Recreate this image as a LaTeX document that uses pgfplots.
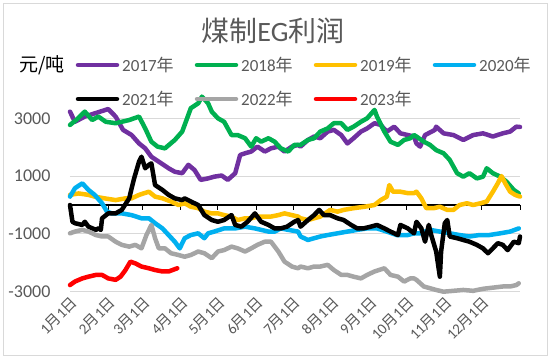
\documentclass[border=0pt]{standalone}
\usepackage{pgfplots}
\pgfplotsset{compat=1.18}
\usepackage{fontspec}
\setmainfont{Carlito}
\newfontfamily\cjk{Noto Sans CJK SC}
\definecolor{c17}{HTML}{7030A0}
\definecolor{c18}{HTML}{00B050}
\definecolor{c19}{HTML}{FFC000}
\definecolor{c20}{HTML}{00B0F0}
\definecolor{c21}{HTML}{000000}
\definecolor{c22}{HTML}{A5A5A5}
\definecolor{c23}{HTML}{FF0000}
\definecolor{txt}{HTML}{595959}
\definecolor{gridc}{HTML}{D9D9D9}
\begin{document}
\begin{tikzpicture}
\path (0pt,0pt) rectangle (550pt,358pt);
\draw[gridc, line width=0.8pt] (3pt,3pt) rectangle (547pt,355pt);
\begin{axis}[
  at={(70pt,66.3pt)}, anchor=south west,
  scale only axis, width=450pt, height=202.3pt,
  xmin=0, xmax=365, ymin=-3000, ymax=4000,
  clip=false,
  axis lines*=left,
  axis line style={draw=none},
  tick style={draw=none},
  ytick={-3000,-1000,1000,3000},
  yticklabels={-3000,-1000,1000,3000},
  ymajorgrids, grid style={gridc, line width=1pt},
  yticklabel style={font=\fontsize{18}{20}\selectfont, text=txt, xshift=-16pt},
  xtick={0,31,59,90,120,151,181,212,243,273,304,334},
  xticklabels={1{\cjk 月}1{\cjk 日},2{\cjk 月}1{\cjk 日},3{\cjk 月}1{\cjk 日},4{\cjk 月}1{\cjk 日},5{\cjk 月}1{\cjk 日},6{\cjk 月}1{\cjk 日},7{\cjk 月}1{\cjk 日},8{\cjk 月}1{\cjk 日},9{\cjk 月}1{\cjk 日},10{\cjk 月}1{\cjk 日},11{\cjk 月}1{\cjk 日},12{\cjk 月}1{\cjk 日}},
  xticklabel style={font=\fontsize{15}{17}\selectfont, text=txt, rotate=45, anchor=east, yshift=-9pt, xshift=1pt},
  every axis plot/.append style={line width=4.5pt, line join=round, line cap=round, mark=none},
]
\addplot[black, line width=1.3pt, line cap=butt] coordinates {(0,0) (365,0)};
\addplot[black, ycomb, line width=1pt, line cap=butt] coordinates {(0,-170) (31,-170) (59,-170) (90,-170) (120,-170) (151,-170) (181,-170) (212,-170) (243,-170) (273,-170) (304,-170) (334,-170) (365,-170)};
% 2017
\addplot[c17] coordinates {(0,3230) (4,2880) (12,3060) (20,3170) (31,3320) (37,3060) (43,2600) (50,2420) (56,2130) (61,1960) (66,1670) (72,1500) (80,1270) (85,1150) (91,1100) (96,1390) (101,1210) (106,870) (112,920) (117,980) (123,1020) (128,870) (134,1100) (138,1730) (142,1790) (147,1850) (152,2020) (158,1850) (163,1960) (169,2020) (174,1850) (180,2020) (185,2080) (187,2020) (193,2250) (198,2370) (203,2310) (209,2540) (214,2600) (220,2420) (225,2130) (230,2310) (236,2540) (241,2650) (247,2830) (252,2770) (257,2540) (263,2710) (268,2480) (274,2420) (279,2370) (281,2130) (284,2020) (288,2420) (296,2600) (297,2710) (303,2480) (311,2420) (319,2250) (327,2420) (335,2480) (343,2370) (351,2480) (357,2540) (362,2710) (365,2700)};
% 2018
\addplot[c18] coordinates {(0,2770) (5,2940) (12,3230) (18,2940) (23,3060) (29,2880) (37,2830) (48,2940) (56,3060) (61,2650) (66,2190) (71,2020) (77,1960) (85,2250) (91,2540) (93,2770) (98,3350) (104,3520) (107,3750) (112,3520) (115,3230) (120,3000) (125,2880) (131,2420) (136,2420) (142,2310) (147,2020) (151,2310) (155,2190) (161,2310) (166,2190) (171,1960) (177,1850) (182,2080) (187,2080) (193,2250) (198,2310) (203,2540) (209,2650) (214,2830) (220,2830) (225,2600) (230,2710) (236,2880) (241,3000) (247,3290) (249,3060) (255,2540) (260,2190) (266,2080) (271,2250) (276,2310) (279,2420) (281,2370) (287,2190) (292,2080) (297,1900) (303,1790) (308,1560) (314,1100) (319,980) (324,1100) (330,920) (335,980) (338,1270) (343,1100) (349,980) (354,810) (360,520) (364,400)};
% 2019
\addplot[c19] coordinates {(0,350) (7,400) (15,350) (20,290) (28,230) (37,170) (45,230) (50,230) (56,350) (64,460) (69,290) (75,230) (82,120) (88,0) (93,60) (98,-60) (104,-110) (109,-230) (115,-290) (120,-290) (125,-350) (131,-400) (136,-520) (142,-460) (147,-460) (152,-400) (158,-400) (163,-400) (169,-350) (174,-290) (180,-350) (185,-400) (187,-460) (193,-520) (198,-460) (203,-400) (209,-230) (211,-170) (217,-230) (222,-170) (230,-110) (239,-60) (247,0) (252,170) (257,290) (259,690) (262,460) (268,460) (274,410) (279,410) (281,460) (285,230) (289,-110) (295,-110) (300,-60) (306,-170) (311,-170) (316,0) (322,60) (327,0) (333,60) (338,120) (343,460) (347,750) (350,1000) (353,750) (357,460) (361,350) (365,290)};
% 2020
\addplot[c20] coordinates {(0,290) (4,580) (10,750) (15,520) (20,350) (26,60) (30,-230) (34,-290) (42,-290) (50,-350) (58,-460) (64,-460) (69,-630) (75,-810) (80,-1040) (85,-1270) (89,-1500) (93,-1150) (98,-1040) (104,-980) (109,-1150) (112,-980) (117,-920) (125,-810) (134,-810) (142,-750) (150,-810) (155,-860) (161,-920) (166,-920) (171,-810) (177,-860) (185,-920) (187,-1090) (193,-1210) (198,-1150) (203,-1090) (209,-1040) (217,-980) (225,-920) (233,-860) (241,-810) (249,-810) (257,-920) (265,-1040) (274,-1040) (279,-980) (284,-980) (292,-860) (300,-920) (308,-980) (316,-1040) (324,-1090) (332,-1040) (340,-1040) (349,-980) (357,-920) (364,-810)};
% 2021
\addplot[c21] coordinates {(0,0) (2,-580) (4,-630) (10,-690) (12,-580) (15,-750) (21,-860) (23,-810) (25,-860) (26,-460) (31,-290) (37,-290) (42,-170) (48,230) (52,920) (56,1500) (58,1670) (61,1270) (64,1390) (66,1440) (69,690) (75,520) (80,350) (85,230) (91,170) (93,230) (98,120) (104,0) (109,-350) (115,-520) (120,-580) (125,-520) (131,-350) (134,-690) (139,-750) (144,-580) (150,-290) (155,-580) (161,-690) (166,-810) (171,-810) (176,-750) (182,-580) (185,-520) (187,-750) (193,-520) (198,-350) (202,-170) (206,-350) (211,-350) (217,-460) (222,-520) (228,-690) (233,-810) (238,-810) (244,-750) (249,-690) (255,-810) (260,-920) (266,-1040) (268,-690) (274,-810) (279,-980) (281,-580) (285,-810) (288,-1270) (291,-690) (293,-1040) (297,-1610) (300,-2480) (301,-1610) (304,-630) (306,-520) (308,-1090) (314,-1150) (319,-1210) (324,-1270) (330,-1380) (335,-1500) (339,-1670) (343,-1500) (347,-1320) (351,-1380) (355,-1560) (360,-1270) (364,-1320) (365,-1090)};
% 2022
\addplot[c22] coordinates {(0,-980) (4,-920) (10,-860) (15,-920) (21,-1040) (26,-1090) (31,-1090) (37,-1270) (42,-1380) (48,-1440) (53,-1380) (58,-1500) (62,-1040) (66,-690) (69,-1150) (72,-1500) (77,-1500) (82,-1670) (88,-1730) (93,-1790) (98,-1730) (104,-1610) (109,-1670) (115,-1840) (120,-1610) (125,-1560) (131,-1440) (136,-1500) (142,-1610) (147,-1500) (152,-1380) (158,-1270) (163,-1270) (169,-1610) (174,-1960) (180,-2130) (185,-2190) (187,-2130) (193,-2190) (198,-2130) (203,-2130) (209,-2070) (214,-2250) (220,-2420) (225,-2420) (230,-2480) (236,-2540) (241,-2420) (247,-2300) (255,-2190) (260,-2420) (266,-2480) (271,-2650) (276,-2540) (279,-2540) (281,-2590) (287,-2820) (292,-2880) (297,-2940) (303,-3000) (311,-2970) (319,-2940) (327,-2970) (335,-2900) (343,-2860) (351,-2820) (357,-2820) (362,-2770) (364,-2710)};
% 2023
\addplot[c23] coordinates {(0,-2770) (4,-2650) (10,-2540) (15,-2480) (21,-2420) (26,-2420) (31,-2540) (37,-2590) (41,-2480) (45,-2250) (49,-1960) (53,-2020) (58,-2130) (64,-2190) (69,-2250) (75,-2300) (80,-2300) (87,-2190)};
\end{axis}
% title
\node[text=txt, font=\fontsize{28}{32}\selectfont] at (273pt,327pt) {{\cjk 煤制}EG{\cjk 利润}};
% unit label
\node[anchor=west, inner sep=0pt, font=\cjk\fontsize{19}{22}\selectfont] at (19pt,293pt) {元/吨};
% legend
\foreach \c/\x/\y/\t in {c17/76/293/2017,c18/195/293/2018,c19/314/293/2019,c20/433/293/2020,c21/76/259/2021,c22/195/259/2022,c23/314/259/2023}{
  \draw[\c, line width=4.5pt, line cap=round] (\x pt+2pt,\y pt) -- (\x pt+41pt,\y pt);
  \node[anchor=west, inner sep=0pt, text=txt, font=\fontsize{17}{20}\selectfont] at (\x pt+46pt,\y pt) {\t{\cjk 年}};
}
\end{tikzpicture}
\end{document}
